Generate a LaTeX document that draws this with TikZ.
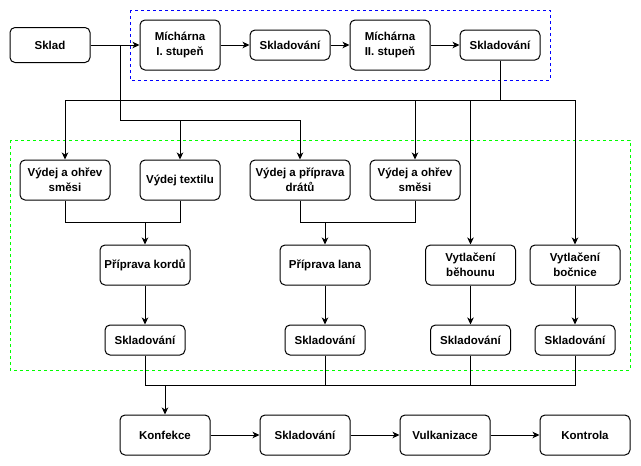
\documentclass[tikz,border=0pt]{standalone}
\usepackage{fontspec}
\setmainfont{Liberation Sans}
\usetikzlibrary{arrows.meta}

\begin{document}
\begin{tikzpicture}[x=1pt,y=-1pt,
  box/.style={draw=black,line width=1pt,rounded corners=5pt,inner sep=0pt,
    align=center,font=\fontsize{11.5}{14.5}\selectfont\bfseries,text=black},
  wb/.style={box,minimum width=#1},
  flow/.style={line width=1pt,draw=black},
  arr/.style={flow,-{Stealth[length=7pt,width=6.5pt,inset=2pt]}},
  grp/.style={line width=0.8pt,dash pattern=on 3pt off 3pt}]

\useasboundingbox (0,0) rectangle (641,466);

% process groups
\draw[grp,draw=blue] (130,10) rectangle (550,80);
\draw[grp,draw=green] (10,140) rectangle (630,370);

% mixing line
\node[wb=80pt,minimum height=35pt] (sklad) at (50,45) {Sklad};
\node[wb=80pt,minimum height=50pt] (mich1) at (180,45) {Míchárna\\I. stupeň};
\node[wb=80pt,minimum height=30pt] (skA) at (290,45) {Skladování};
\node[wb=80pt,minimum height=50pt] (mich2) at (390,45) {Míchárna\\II. stupeň};
\node[wb=80pt,minimum height=30pt] (skB) at (500,45) {Skladování};

% preparation
\node[wb=90pt,minimum height=40pt] (vs1) at (65,180) {Výdej a ohřev\\směsi};
\node[wb=80pt,minimum height=40pt] (vt) at (180,180) {Výdej textilu};
\node[wb=100pt,minimum height=40pt] (vd) at (300,180) {Výdej a příprava\\drátů};
\node[wb=90pt,minimum height=40pt] (vs2) at (415,180) {Výdej a ohřev\\směsi};

\node[wb=90pt,minimum height=40pt] (pk) at (145,265) {Příprava kordů};
\node[wb=90pt,minimum height=40pt] (pl) at (325,265) {Příprava lana};
\node[wb=90pt,minimum height=40pt] (vb) at (470.5,265) {Vytlačení\\běhounu};
\node[wb=90pt,minimum height=40pt] (vc) at (575,265) {Vytlačení\\bočnice};

\node[wb=80pt,minimum height=30pt] (s1) at (145,340) {Skladování};
\node[wb=80pt,minimum height=30pt] (s2) at (325,340) {Skladování};
\node[wb=80pt,minimum height=30pt] (s3) at (470.5,340) {Skladování};
\node[wb=80pt,minimum height=30pt] (s4) at (575,340) {Skladování};

% assembly line
\node[wb=90pt,minimum height=40pt] (kf) at (165,435) {Konfekce};
\node[wb=90pt,minimum height=40pt] (skC) at (305,435) {Skladování};
\node[wb=90pt,minimum height=40pt] (vu) at (445,435) {Vulkanizace};
\node[wb=90pt,minimum height=40pt] (ko) at (585,435) {Kontrola};

% junction points
\coordinate (j1) at (120,120);
\coordinate (j2) at (500,100);
\coordinate (m1) at (145,222.5);
\coordinate (m2) at (325,222.5);
\coordinate (m3) at (165,385);

% top chain
\draw[arr] (sklad) -- (mich1);
\draw[arr] (mich1) -- (skA);
\draw[arr] (skA) -- (mich2);
\draw[arr] (mich2) -- (skB);

% distribution from the store
\draw[arr] (sklad.east) -| (j1) -| (vt.north);
\draw[arr] (j1) -| (vd.north);

% distribution of compound
\draw[flow] (skB.south) -- (j2);
\draw[arr] (j2) -| (vs1.north);
\draw[arr] (j2) -| (vs2.north);
\draw[arr] (j2) -| (vb.north);
\draw[arr] (j2) -| (vc.north);

% semi-products
\draw[flow] (vs1.south) |- (m1);
\draw[flow] (vt.south) |- (m1);
\draw[arr] (m1) -- (pk.north);
\draw[flow] (vd.south) |- (m2);
\draw[flow] (vs2.south) |- (m2);
\draw[arr] (m2) -- (pl.north);

\draw[arr] (pk) -- (s1);
\draw[arr] (pl) -- (s2);
\draw[arr] (vb) -- (s3);
\draw[arr] (vc) -- (s4);

% collection to assembly
\draw[flow] (s1.south) |- (m3);
\draw[flow] (s2.south) |- (m3);
\draw[flow] (s3.south) |- (m3);
\draw[flow] (s4.south) |- (m3);
\draw[arr] (m3) -- (kf.north);

% final chain
\draw[arr] (kf) -- (skC);
\draw[arr] (skC) -- (vu);
\draw[arr] (vu) -- (ko);
\end{tikzpicture}
\end{document}
